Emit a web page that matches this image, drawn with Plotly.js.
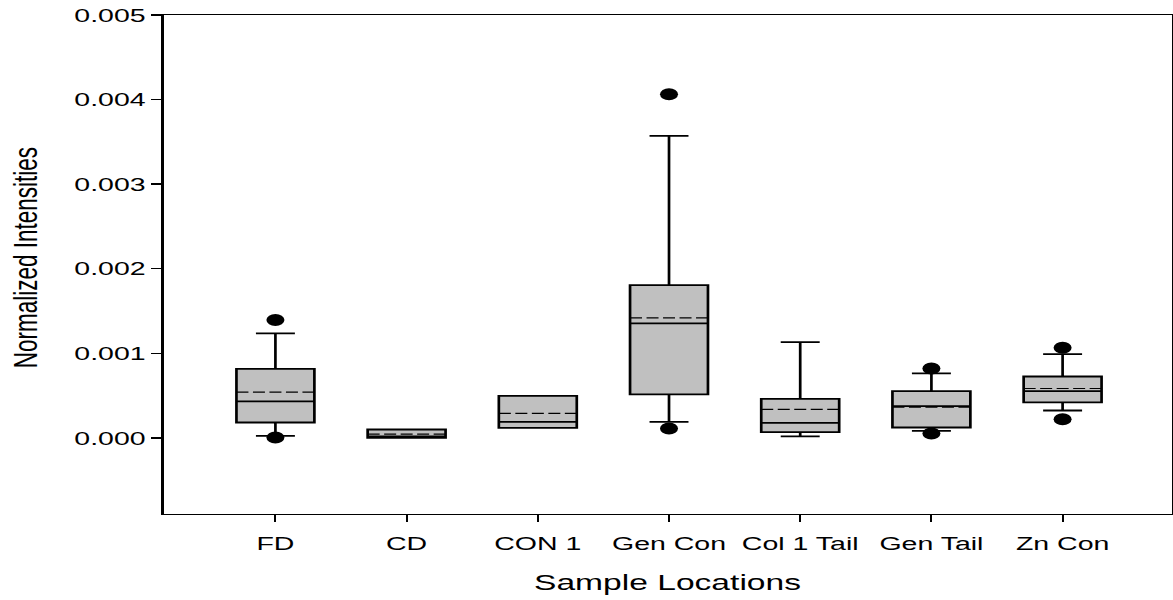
<!DOCTYPE html>
<html><head><meta charset="utf-8">
<script src="https://cdn.plot.ly/plotly-3.0.1.min.js"></script>
<style>
html,body{margin:0;padding:0;background:#fff;overflow:hidden;}
#wrap{width:1173px;height:600px;overflow:hidden;}
#chart{width:782px;height:600px;transform:scaleX(1.5);transform-origin:0 0;}
#chart path.mean{stroke-dasharray:8px,3px !important;stroke-width:1.2px !important;}
</style></head><body>
<div id="wrap"><div id="chart"></div></div>
<script>
// Data
const categories = ['FD', 'CD', 'CON 1', 'Gen Con', 'Col 1 Tail', 'Gen Tail', 'Zn Con'];
const q1 = [0.000182, 0.000001, 0.000118, 0.000514, 0.000067, 0.000123, 0.000419];
const medians = [0.000431, 0.000017, 0.000189, 0.001354, 0.000178, 0.000375, 0.000552];
const q3 = [0.000817, 0.000099, 0.000497, 0.001807, 0.000461, 0.000552, 0.000726];
const means = [0.000541, 0.000044, 0.000289, 0.001420, 0.000336, 0.000362, 0.000584];
const whiskerLow = [0.000024, 0.000001, 0.000118, 0.000189, 0.000017, 0.000083, 0.000324];
const whiskerHigh = [0.001235, 0.000099, 0.000497, 0.003570, 0.001132, 0.000762, 0.000990];
const outlierLow = [0.000005, null, null, 0.000111, null, 0.000052, 0.000221];
const outlierHigh = [0.001393, null, null, 0.004064, null, 0.000821, 0.001065];
const yTickVals = [0, 0.001, 0.002, 0.003, 0.004, 0.005];
const yTickText = ['0.000', '0.001', '0.002', '0.003', '0.004', '0.005'];
const xTitle = 'Sample Locations';
const yTitle = 'Normalized Intensities';

const FONT = 'Liberation Sans, Arial, Helvetica, sans-serif';

const dotX = [], dotY = [];
categories.forEach((c, i) => {
  if (outlierLow[i] !== null) { dotX.push(c); dotY.push(outlierLow[i]); }
  if (outlierHigh[i] !== null) { dotX.push(c); dotY.push(outlierHigh[i]); }
});

const traces = [
  {
    type: 'box',
    x: categories,
    q1: q1,
    median: medians,
    q3: q3,
    mean: means,
    lowerfence: whiskerLow,
    upperfence: whiskerHigh,
    boxmean: true,
    boxpoints: false,
    width: 0.594,
    whiskerwidth: 0.5,
    fillcolor: '#c0c0c0',
    line: {color: '#000000', width: 1.8},
    hoverinfo: 'skip',
    showlegend: false
  },
  {
    type: 'scatter',
    mode: 'markers',
    x: dotX,
    y: dotY,
    marker: {color: '#000000', size: 12, line: {width: 0}},
    hoverinfo: 'skip',
    showlegend: false
  }
];

const layout = {
  width: 782,
  height: 600,
  margin: {l: 108.7, r: 1, t: 15, b: 85.7},
  paper_bgcolor: '#ffffff',
  plot_bgcolor: '#ffffff',
  showlegend: false,
  font: {family: FONT, color: '#000000'},
  xaxis: {
    type: 'category',
    range: [-0.853, 6.83],
    showgrid: false,
    zeroline: false,
    showline: true,
    mirror: true,
    linecolor: '#000000',
    linewidth: 1.4,
    ticks: 'outside',
    ticklen: 7,
    tickwidth: 1.4,
    tickcolor: '#000000',
    ticklabelstandoff: 5,
    tickfont: {family: FONT, size: 19, color: '#000000'}
  },
  yaxis: {
    range: [-0.0009, 0.005],
    tickvals: yTickVals,
    ticktext: yTickText,
    showgrid: false,
    zeroline: false,
    showline: true,
    mirror: true,
    linecolor: '#000000',
    linewidth: 1.4,
    ticks: 'outside',
    ticklen: 6.7,
    tickwidth: 1.4,
    tickcolor: '#000000',
    ticklabelstandoff: 4.5,
    tickfont: {family: FONT, size: 19, color: '#000000'}
  },
  annotations: [
    {
      text: xTitle,
      xref: 'paper', yref: 'paper',
      x: 0.5, y: 0,
      xanchor: 'center', yanchor: 'middle',
      yshift: -68,
      showarrow: false,
      font: {family: FONT, size: 22.4, color: '#000000'}
    },
    {
      text: yTitle,
      xref: 'paper', yref: 'paper',
      x: 0, y: 0.5123,
      xanchor: 'center', yanchor: 'middle',
      xshift: -92,
      textangle: -90,
      showarrow: false,
      font: {family: FONT, size: 22.5, color: '#000000'}
    }
  ]
};

Plotly.newPlot('chart', traces, layout, {staticPlot: true, displayModeBar: false});
</script>
</body></html>
